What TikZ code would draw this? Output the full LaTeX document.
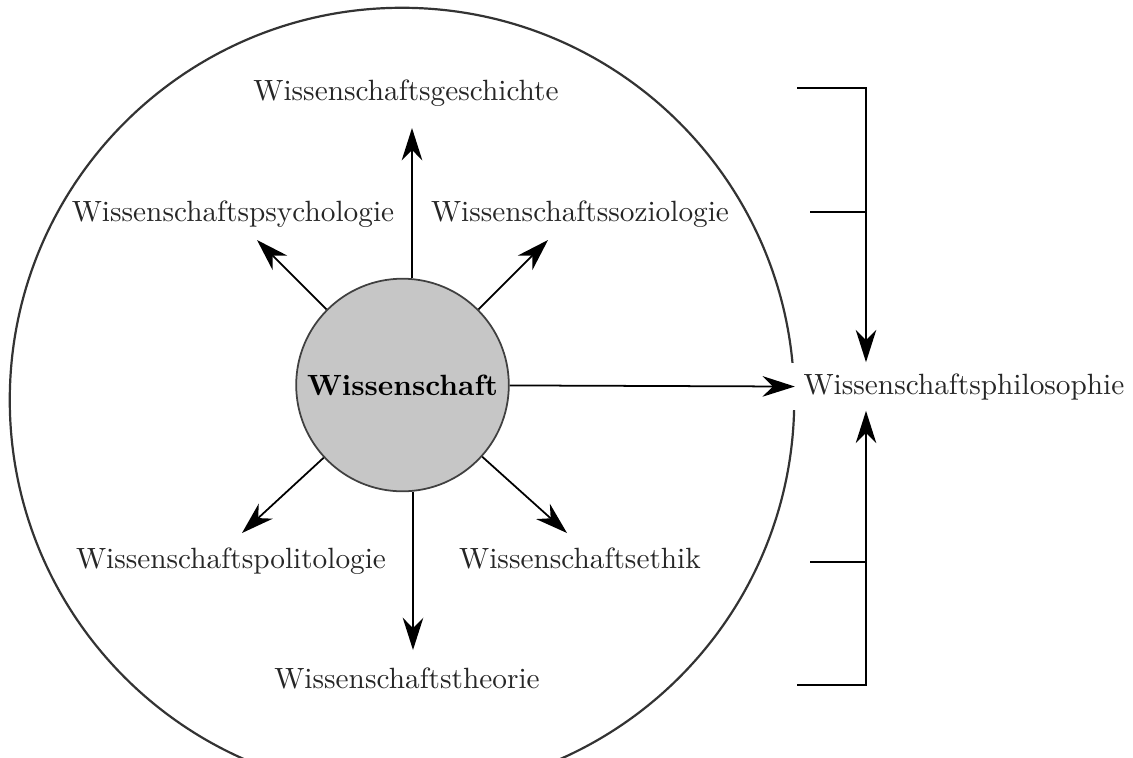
\documentclass[tikz,border=0pt]{standalone}
\usepackage{tikz}
\usetikzlibrary{arrows.meta,calc}

\begin{document}
\begin{tikzpicture}[x=0.012cm,y=-0.012cm,
    arr/.style={-{Stealth[length=11pt,width=7pt,inset=3.5pt]},line width=0.6pt},
    lbl/.style={anchor=base,text=black!85}]
  \useasboundingbox (0,0) rectangle (1133,757);
  % outer circle
  \draw[line width=0.75pt,black!80] (402,400) circle[radius=4.704cm];
  \node[circle,draw=black!75,line width=0.6pt,fill=gray!45,minimum size=2.55cm,inner sep=0pt] (wiss) at (402.5,385) {\textbf{Wissenschaft}};
  \node[lbl] (gesch) at (406,100) {Wissenschaftsgeschichte};
  \node[lbl] (psych) at (233,221) {Wissenschaftspsychologie};
  \node[lbl] (sozio) at (580,221) {Wissenschaftssoziologie};
  \node[lbl] (polit) at (231,568) {Wissenschaftspolitologie};
  \node[lbl] (ethik) at (580,568) {Wissenschaftsethik};
  \node[lbl] (theo) at (407,688) {Wissenschaftstheorie};
  \node[anchor=west,fill=white,inner xsep=0.168cm,inner ysep=0pt,minimum height=0.57cm,text=black!85] (phil) at (789,386.5) {Wissenschaftsphilosophie};
  % arrow tips
  \coordinate (tu) at (412,128);
  \coordinate (td) at (413,650);
  \coordinate (tul) at (257,240);
  \coordinate (tur) at (548,240);
  \coordinate (tdl) at (242,533);
  \coordinate (tdr) at (567,533);
  \draw[arr] (tu |- wiss.north) -- (tu);
  \draw[arr] (td |- wiss.south) -- (td);
  \foreach \t in {tul,tur,tdl,tdr}
    \draw[arr] (wiss) -- (\t);
  \draw[arr,shorten >=-0.07cm] (wiss) -- (phil.west);
  % bracket
  \coordinate (bt) at (866,88);
  \coordinate (b1) at (797,88);
  \coordinate (b2) at (810,212);
  \coordinate (b3) at (810,562);
  \coordinate (b4) at (797,685);
  \draw[arr] (b1) -| (bt |- phil.north);
  \draw[arr] (b4) -| (bt |- phil.south);
  \draw[line width=0.6pt] (b2) -- (b2 -| bt);
  \draw[line width=0.6pt] (b3) -- (b3 -| bt);
\end{tikzpicture}
\end{document}
